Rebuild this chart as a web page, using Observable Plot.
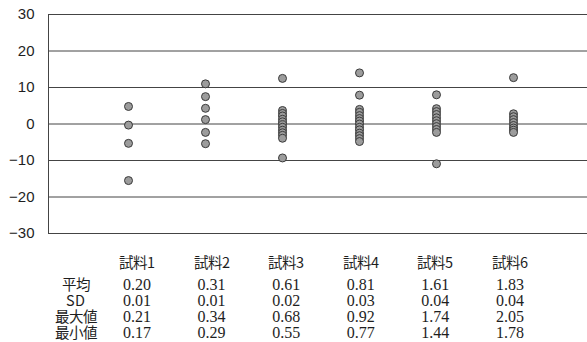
<!DOCTYPE html>
<html>
<head>
<meta charset="utf-8">
<script src="https://cdn.jsdelivr.net/npm/d3@7"></script>
<script src="https://cdn.jsdelivr.net/npm/@observablehq/plot@0.6"></script>
<style>
  /* CJK face with tighter line metrics so stacked rows sit close together */
  @font-face {
    font-family: "TableCJK";
    src: local("Noto Sans CJK JP"), local("Noto Sans CJK JP Regular"), local("NotoSansCJKjp-Regular");
    ascent-override: 86%;
    descent-override: 14%;
    line-gap-override: 0%;
  }
  body { margin: 0; background: #fff; }
  #chart svg { display: block; }
  #stats {
    display: grid;
    grid-template-columns: 47.4px repeat(6, 74.6px);
    padding-left: 52.3px;
    padding-top: 15px;
    color: #1e1e1e;
  }
  #stats .head {
    font-family: "TableCJK", "Noto Sans CJK JP", sans-serif;
    font-size: 14.5px;
    line-height: 16px;
    text-align: center;
    margin-bottom: 6px;
  }
  #stats .lab {
    font-family: "TableCJK", "Noto Sans CJK JP", serif;
    font-size: 14.5px;
    line-height: 16px;
    height: 16px;
    text-align: center;
  }
  #stats .num {
    font-family: "Liberation Serif", "DejaVu Serif", serif;
    font-size: 16px;
    line-height: 16px;
    height: 16px;
    text-align: center;
  }
</style>
</head>
<body>
<div id="chart"></div>
<div id="stats"></div>
<script>
// Samples and the per-run deviations (%) plotted for each one
const samples = ["試料1", "試料2", "試料3", "試料4", "試料5", "試料6"];
const deviations = [
  [4.8, -0.3, -5.3, -15.5],
  [11.0, 7.5, 4.3, 1.2, -2.3, -5.4],
  [12.5, 3.7, 2.9, 2.2, 1.3, 0.6, -0.2, -0.9, -1.7, -2.4, -3.1, -3.9, -9.3],
  [14.0, 7.9, 4.0, 3.2, 2.3, 1.5, 0.8, 0.0, -0.9, -1.6, -2.5, -3.2, -4.0, -4.8],
  [8.0, 4.2, 3.4, 2.6, 1.7, 0.9, 0.1, -0.7, -1.5, -2.3, -10.9],
  [12.7, 2.8, 2.0, 1.2, 0.4, -0.4, -1.1, -1.7, -2.3]
];
const yTicks = [-30, -20, -10, 0, 10, 20, 30];

// Summary statistics table
const statLabels = ["平均", "SD", "最大値", "最小値"];
const means = ["0.20", "0.31", "0.61", "0.81", "1.61", "1.83"];
const sds   = ["0.01", "0.01", "0.02", "0.03", "0.04", "0.04"];
const maxs  = ["0.21", "0.34", "0.68", "0.92", "1.74", "2.05"];
const mins  = ["0.17", "0.29", "0.55", "0.77", "1.44", "1.78"];

const points = samples.flatMap((s, i) => deviations[i].map(v => ({sample: s, value: v})));

const chart = Plot.plot({
  width: 587,
  height: 240,
  marginTop: 14,
  marginBottom: 7,
  marginLeft: 48,
  marginRight: 0,
  style: {fontFamily: "Liberation Sans, Arial, sans-serif", fontSize: "15px", color: "#1e1e1e"},
  x: {type: "point", domain: samples, range: [126.5, 514], padding: 0, axis: null},
  y: {domain: [-30, 30], ticks: yTicks, tickSize: 0, tickPadding: 14, label: null},
  marks: [
    Plot.ruleY(yTicks, {stroke: "#444", strokeWidth: 1}),
    Plot.frame({anchor: "left", stroke: "#444"}),
    Plot.dot(points, {x: "sample", y: "value", r: 4, fill: "#9c9c9c", stroke: "#3a3a3a", strokeWidth: 1})
  ]
});
document.getElementById("chart").append(chart);

// Table below the plot
const stats = document.getElementById("stats");
const cell = (cls, txt) => {
  const d = document.createElement("div");
  d.className = cls;
  d.textContent = txt;
  stats.append(d);
};
cell("head", "");
samples.forEach(s => cell("head", s));
[means, sds, maxs, mins].forEach((row, r) => {
  cell("lab", statLabels[r]);
  row.forEach(v => cell("num", v));
});
</script>
</body>
</html>
